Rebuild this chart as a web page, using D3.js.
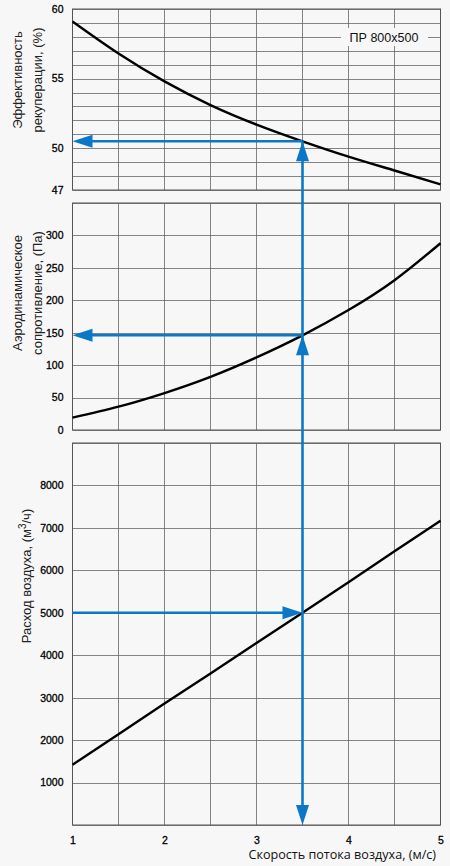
<!DOCTYPE html>
<html>
<head>
<meta charset="utf-8">
<script src="https://cdn.jsdelivr.net/npm/d3@7"></script>
<style>
  body { margin: 0; background: #f7f7f7; }
  svg { display: block; }
  .tick text { font-family: "Liberation Sans", Arial, sans-serif; font-size: 10.5px; fill: #000; stroke: #000; stroke-width: 0.3px; }
</style>
</head>
<body>
<svg id="chart" width="450" height="866"></svg>
<script>
// values
const velocity = [1, 1.5, 2, 2.5, 3, 3.5, 4, 4.5, 5];
const efficiency = [59.1, 56.8, 54.8, 53.1, 51.7, 50.5, 49.4, 48.4, 47.4];
const pressure = [19, 36, 57, 82, 112, 146, 185, 231, 288];
const airflow = [1420, 2140, 2860, 3570, 4290, 5000, 5720, 6450, 7170];

const effTicks = [47, 50, 55, 60];
const presTicks = [0, 50, 100, 150, 200, 250, 300];
const flowTicks = [1000, 2000, 3000, 4000, 5000, 6000, 7000, 8000];
const velTicks = [1, 2, 3, 4, 5];

// the worked example drawn in blue
const pickVelocity = 3.5;
const pickFlow = 5000;
const pickPressure = 146;
const pickEfficiency = 50.5;

const modelName = "ПР 800x500";

const svg = d3.select("#chart");
const blue = "#0a78c6";

const x = d3.scaleLinear().domain([1, 5]).range([72.5, 440.5]);
const yEff = d3.scaleLinear().domain([47, 60]).range([190, 9]);
const yPres = d3.scaleLinear().domain([0, 350]).range([430, 203]);
const yFlow = d3.scaleLinear().domain([0, 9000]).range([825, 443]);

const vGrid = d3.range(1, 5.01, 0.5);

function panel(y, hGrid) {
    const g = svg.append("g");
    const [y0, y1] = y.range();
    g.selectAll(".h").data(hGrid).join("line")
        .attr("x1", x(1)).attr("x2", x(5))
        .attr("y1", d => Math.round(y(d)) + 0.5).attr("y2", d => Math.round(y(d)) + 0.5)
        .attr("stroke", "#666").attr("stroke-width", 0.8);
    g.selectAll(".v").data(vGrid).join("line")
        .attr("x1", d => x(d)).attr("x2", d => x(d))
        .attr("y1", y1).attr("y2", y0)
        .attr("stroke", "#666").attr("stroke-width", 0.8);
    g.append("rect")
        .attr("x", x(1)).attr("y", y1)
        .attr("width", x(5) - x(1)).attr("height", y0 - y1)
        .attr("fill", "none").attr("stroke", "#555").attr("stroke-width", 1);
    return g;
}

panel(yEff, d3.range(47, 60.01, 1));
panel(yPres, d3.range(0, 350.01, 50));
panel(yFlow, d3.range(0, 9000.01, 1000));

// model label box in the top panel
svg.append("rect")
    .attr("x", 341).attr("y", 28).attr("width", 87).attr("height", 18)
    .attr("fill", "#f7f7f7");
svg.append("text")
    .attr("x", 384).attr("y", 41.5)
    .attr("text-anchor", "middle")
    .attr("font-family", "Liberation Sans, Arial, sans-serif")
    .attr("font-size", 12.5).attr("fill", "#111")
    .text(modelName);

// y axes
function leftAxis(y, ticks) {
    svg.append("g")
        .attr("transform", `translate(${x(1)},0)`)
        .call(d3.axisLeft(y).tickValues(ticks).tickSize(0).tickPadding(9).tickFormat(d3.format("d")))
        .call(g => g.select(".domain").remove());
}
leftAxis(yEff, effTicks);
leftAxis(yPres, presTicks);
leftAxis(yFlow, flowTicks);

svg.append("g")
    .attr("transform", `translate(0,${yFlow(0)})`)
    .call(d3.axisBottom(x).tickValues(velTicks).tickSize(0).tickPadding(12).tickFormat(d3.format("d")))
    .call(g => g.select(".domain").remove());

// titles
function yTitle(lines, cy, xs) {
    lines.forEach((t, i) => {
        svg.append("text")
            .attr("transform", `translate(${xs[i]},${cy}) rotate(-90)`)
            .attr("text-anchor", "middle")
            .attr("font-family", "Liberation Sans, Arial, sans-serif")
            .attr("font-size", 13).attr("fill", "#222")
            .text(t);
    });
}
yTitle(["Эффективность", "рекуперации, (%)"], 80, [22, 42]);
yTitle(["Аэродинамическое", "сопротивление, (Па)"], 293, [22, 42]);

const flowTitle = svg.append("text")
    .attr("transform", `translate(31,576) rotate(-90)`)
    .attr("text-anchor", "middle")
    .attr("font-family", "Liberation Sans, Arial, sans-serif")
    .attr("font-size", 13).attr("fill", "#222");
flowTitle.append("tspan").text("Расход воздуха, (м");
flowTitle.append("tspan").attr("dy", -5).attr("font-size", 10).text("3");
flowTitle.append("tspan").attr("dy", 5).text("/ч)");

svg.append("text")
    .attr("x", 436).attr("y", 859)
    .attr("text-anchor", "end")
    .attr("font-family", "Open Sans, Noto Sans, sans-serif")
    .attr("font-size", 12.6).attr("fill", "#111")
    .text("Скорость потока воздуха, (м/с)");

// curves
function curve(values, y, kind) {
    svg.append("path")
        .datum(velocity.map((v, i) => [v, values[i]]))
        .attr("fill", "none")
        .attr("stroke", "#000")
        .attr("stroke-width", 2.4)
        .attr("d", d3.line().x(d => x(d[0])).y(d => y(d[1])).curve(kind));
}
curve(efficiency, yEff, d3.curveNatural);
curve(pressure, yPres, d3.curveNatural);
curve(airflow, yFlow, d3.curveLinear);

// blue guide lines
const px = x(pickVelocity);
const guides = svg.append("g").attr("stroke", blue).attr("stroke-width", 2.6).attr("fill", "none");
guides.append("line").attr("x1", px).attr("x2", px).attr("y1", yEff(pickEfficiency)).attr("y2", yFlow(0) - 10);
guides.append("line").attr("x1", x(1) + 10).attr("x2", px).attr("y1", yEff(pickEfficiency)).attr("y2", yEff(pickEfficiency));
guides.append("line").attr("x1", x(1) + 10).attr("x2", px).attr("y1", yPres(pickPressure)).attr("y2", yPres(pickPressure));
guides.append("line").attr("x1", x(1)).attr("x2", px - 10).attr("y1", yFlow(pickFlow)).attr("y2", yFlow(pickFlow));

function arrow(tx, ty, dir) {
    const L = 20, W = 6.5;
    let pts;
    if (dir === "left") pts = [[tx, ty], [tx + L, ty - W], [tx + L, ty + W]];
    if (dir === "right") pts = [[tx, ty], [tx - L, ty - W], [tx - L, ty + W]];
    if (dir === "up") pts = [[tx, ty], [tx - W, ty + L], [tx + W, ty + L]];
    if (dir === "down") pts = [[tx, ty], [tx - W, ty - L], [tx + W, ty - L]];
    svg.append("path")
        .attr("d", "M" + pts.join("L") + "Z")
        .attr("fill", blue);
}
arrow(x(1), yEff(pickEfficiency), "left");
arrow(x(1), yPres(pickPressure), "left");
arrow(px, yFlow(pickFlow), "right");
arrow(px, yEff(pickEfficiency), "up");
arrow(px, yPres(pickPressure), "up");
arrow(px, yFlow(0), "down");
</script>
</body>
</html>
